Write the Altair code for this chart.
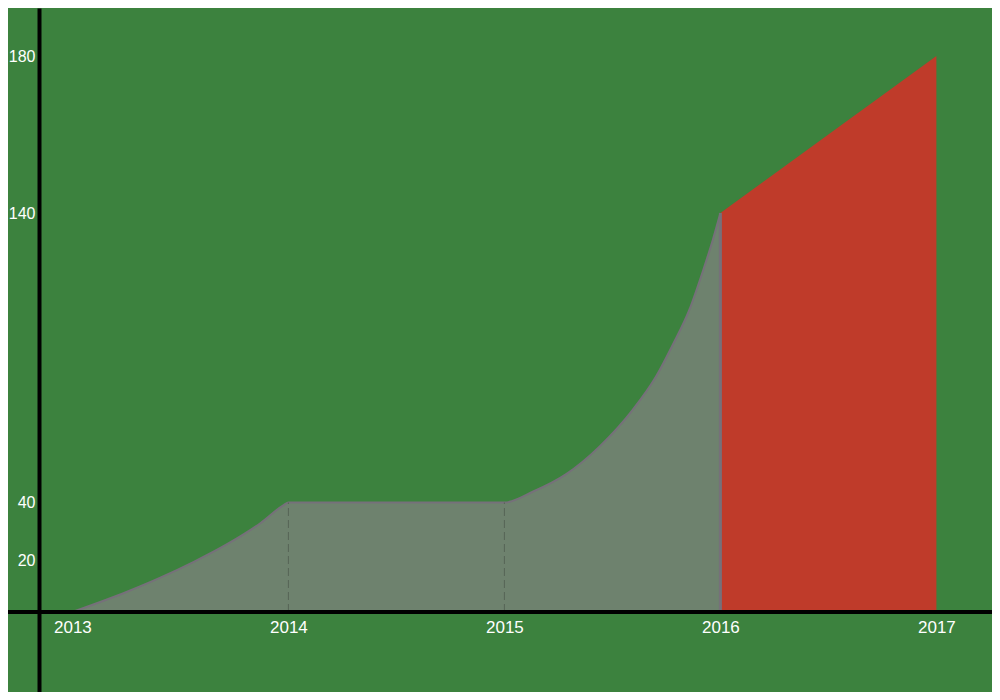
import altair as alt
import pandas as pd

# ---- data ----
grey_years = [2013, 2013.253, 2013.407, 2013.562, 2013.716, 2013.870, 2013.978, 2014,
              2015, 2015.131, 2015.286, 2015.44, 2015.594, 2015.702, 2015.779, 2015.856,
              2015.918, 2015.964, 2016]
grey_values = [0, 7.8, 13.2, 19.3, 25.5, 32.8, 39.1, 40,
               40, 43.7, 49.8, 59.3, 72.0, 83.5, 94.4, 106.5,
               119.7, 130.5, 140]
red_years = [2016, 2017]
red_values = [140, 180]
dash_years = [2014, 2015]
dash_values = [40, 40]
x_ticks = [2013, 2014, 2015, 2016, 2017]
y_ticks = [20, 40, 140, 180]

BG = "#3c823e"
GREY_FILL = "#6e826e"
GREY_LINE = "#76707a"
RED = "#bf3b2a"

W, H = 953, 684

grey_df = pd.DataFrame({"year": grey_years, "value": grey_values})
red_df = pd.DataFrame({"year": red_years, "value": red_values})
dash_df = pd.DataFrame({"year": dash_years, "top": dash_values, "base": [0, 0]})
vert_df = pd.DataFrame({"year": [red_years[0]], "top": [red_values[0]], "base": [0]})
zero_df = pd.DataFrame({"v": [0]})

xscale = alt.Scale(domain=[2012.8454, 2017.2574], nice=False, zero=False)
yscale = alt.Scale(domain=[-30.77, 0, 20, 40, 140, 180, 192.2],
                   range=[684, 604, 552, 494.5, 205, 48, 0], nice=False, zero=False)

x_enc = alt.X("year:Q", scale=xscale,
              axis=alt.Axis(values=x_ticks, format="d", domain=False, ticks=False, tickSize=0,
                            labelPadding=7, offset=-80, grid=False, title=None,
                            labelFontSize=17, labelColor="white", labelFont="Liberation Sans",
                            labelFlush=False, labelOverlap=False))
y_enc = alt.Y("value:Q", scale=yscale,
              axis=alt.Axis(values=y_ticks, domain=True, domainColor="black", domainWidth=4,
                            ticks=False, tickSize=0, labelPadding=4, grid=False, title=None,
                            labelFontSize=16, labelColor="white", labelFont="Liberation Sans",
                            labelFlush=False, labelOverlap=False))

red = alt.Chart(red_df).mark_area(color=RED, interpolate="linear").encode(x=x_enc, y=y_enc)
grey = alt.Chart(grey_df).mark_area(color=GREY_FILL, interpolate="monotone").encode(
    x=alt.X("year:Q"), y=alt.Y("value:Q"))
grey_line = alt.Chart(grey_df).mark_line(color=GREY_LINE, strokeWidth=2, interpolate="monotone").encode(
    x=alt.X("year:Q"), y=alt.Y("value:Q"))
vert = alt.Chart(vert_df).mark_rule(color=GREY_LINE, strokeWidth=3).encode(
    x=alt.X("year:Q"), y=alt.Y("base:Q"), y2="top:Q")
dashes = alt.Chart(dash_df).mark_rule(color="#566456", strokeWidth=1, strokeDash=[8, 4]).encode(
    x=alt.X("year:Q"), y=alt.Y("base:Q"), y2="top:Q")
xline = alt.Chart(zero_df).mark_rule(color="black", strokeWidth=4).encode(
    x=alt.value(-31), x2=alt.value(W), y=alt.Y("v:Q"))

chart = alt.layer(red, grey, grey_line, vert, dashes, xline).properties(
    width=W, height=H,
    autosize=alt.AutoSizeParams(type="none"),
    padding={"left": 31, "top": 0, "right": 0, "bottom": 0},
).configure(background=BG).configure_view(stroke=None)

chart.save("out.html", embed_options={"renderer": "svg", "actions": False})
